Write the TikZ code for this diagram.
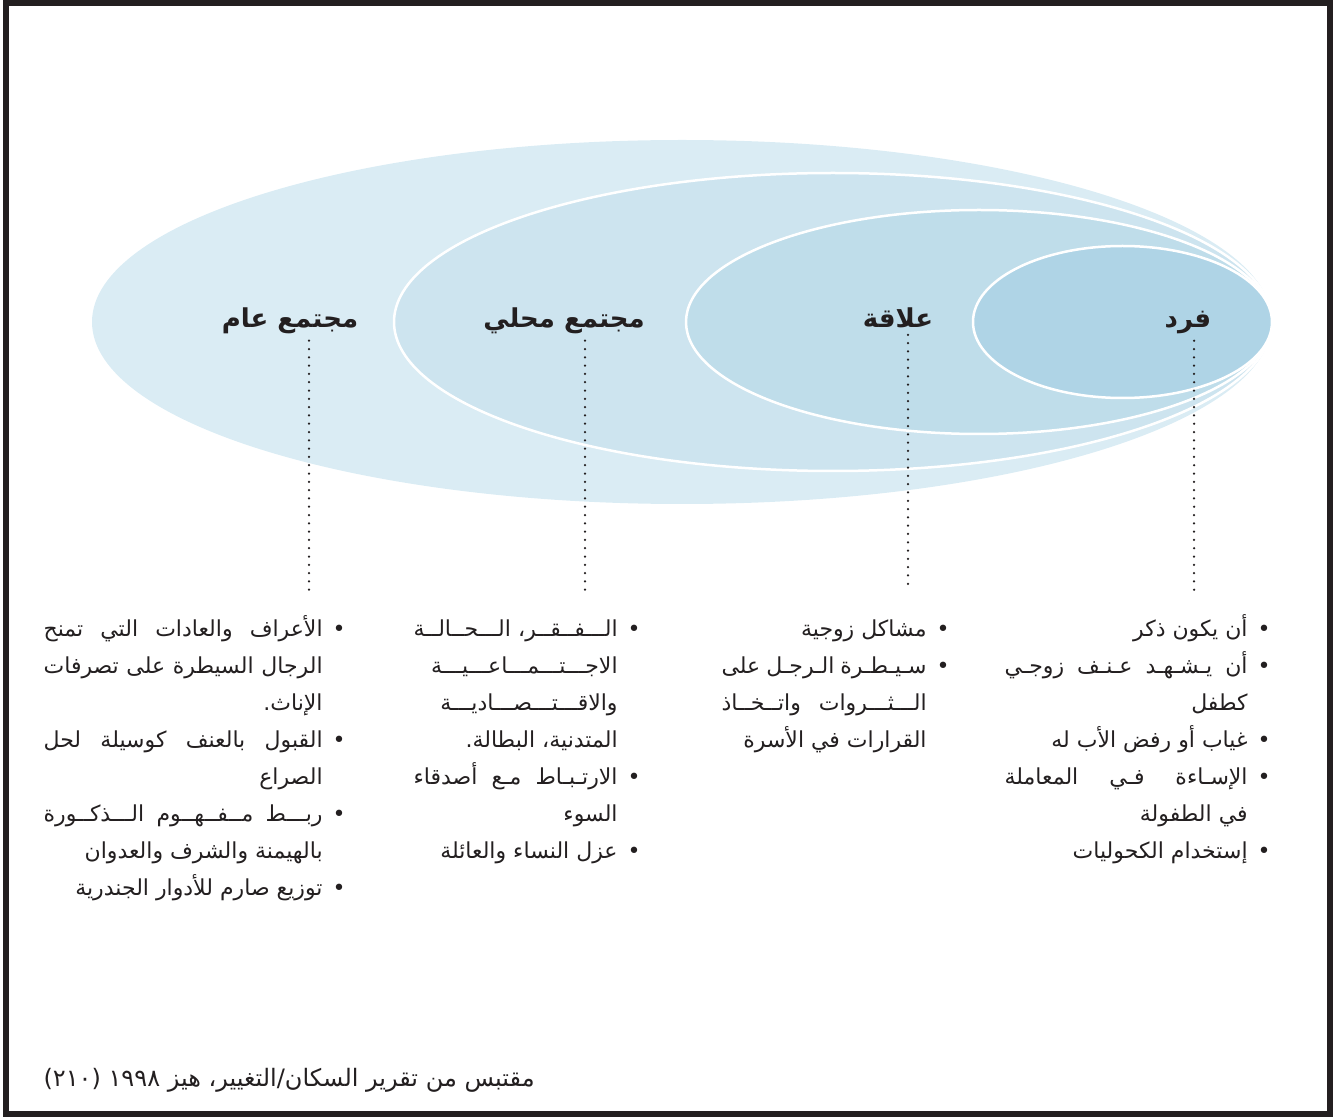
\documentclass[tikz,border=0pt]{standalone}
\usepackage{fontspec}
\usepackage{tikz}
\usetikzlibrary{positioning,calc}
\newfontfamily\arabicfont[Script=Arabic]{DejaVu Sans}
\TeXXeTstate=1
\definecolor{txt}{HTML}{231F20}
\definecolor{ringA}{HTML}{DAECF4}
\definecolor{ringB}{HTML}{CDE4EF}
\definecolor{ringC}{HTML}{BFDDEA}
\definecolor{ringD}{HTML}{AFD4E6}
\newcommand{\artext}[1]{\beginR#1\endR}
\newcommand{\jl}[2]{\makebox[#1][s]{#2}}
\newcommand{\bul}{\rlap{\hspace{5pt}•}}
\newcommand{\topstrut}{\rule{0pt}{14pt}}

\begin{document}
\begin{tikzpicture}[
  x=0.5pt, y=-0.5pt,
  every node/.style={text=txt},
  lab/.style={font=\arabicfont\bfseries\fontsize{13}{15}\selectfont, inner sep=0pt, anchor=base},
  items/.style={font=\arabicfont\fontsize{11}{18.5}\selectfont, align=right, inner sep=0pt, anchor=north east},
  dots/.style={draw=txt, line width=1.25pt, line cap=round, dash pattern=on 0pt off 4.15pt},
  ring/.style={draw=white, line width=1.25pt}
]
\useasboundingbox (0,0) rectangle (1335,1117);

% ---- frame ----
\draw[txt, line width=2.75pt] (6,3) rectangle (1330,1114);

% ---- rings ----
\fill[ringA] (682,322) ellipse [x radius=590, y radius=182];
\filldraw[ring, fill=ringB] (833,322) ellipse [x radius=439, y radius=149];
\filldraw[ring, fill=ringC] (979,322) ellipse [x radius=293, y radius=112];
\filldraw[ring, fill=ringD] (1122.5,322) ellipse [x radius=149.5, y radius=76];

% ---- ring labels ----
\node[lab] (fard) at (1188,328) {\artext{فرد}};
\node[lab] (alaqa) at (898,328) {\artext{علاقة}};
\node[lab] (mahalli) at (564,328) {\artext{مجتمع محلي}};
\node[lab] (aam) at (290,328) {\artext{مجتمع عام}};

% ---- lists ----
\node[items] (fardlist) at (1248,608) {%
  \topstrut\artext{أن يكون ذكر}\bul\\
  \jl{121.5pt}{\artext{أن يـشـهـد عـنـف زوجـي}}\bul\\
  \artext{كطفل}\\
  \artext{غياب أو رفض الأب له}\bul\\
  \jl{121.5pt}{\artext{الإسـاءة فـي المعاملة}}\bul\\
  \artext{في الطفولة}\\
  \artext{إستخدام الكحوليات}\bul};
\node[items] (alaqalist) at (927,608) {%
  \topstrut\artext{مشاكل زوجية}\bul\\
  \jl{102.5pt}{\artext{سـيـطـرة الـرجـل على}}\bul\\
  \jl{102.5pt}{\artext{الـــثـــروات واتــخــاذ}}\\
  \artext{القرارات في الأسرة}};
\node[items] (mahallilist) at (618,608) {%
  \topstrut\jl{102pt}{\artext{الـــفــقــر، الـــحــالــة}}\bul\\
  \artext{الاجـــتـــمـــاعـــيـــة}\\
  \artext{والاقـــتـــصـــاديـــة}\\
  \artext{المتدنية، البطالة.}\\
  \jl{102pt}{\artext{الارتـبـاط مـع أصدقاء}}\bul\\
  \artext{السوء}\\
  \artext{عزل النساء والعائلة}\bul};
\node[items] (aamlist) at (323,608) {%
  \topstrut\jl{139.5pt}{\artext{الأعراف والعادات التي تمنح}}\bul\\
  \jl{139.5pt}{\artext{الرجال السيطرة على تصرفات}}\\
  \artext{الإناث.}\\
  \jl{139.5pt}{\artext{القبول بالعنف كوسيلة لحل}}\bul\\
  \artext{الصراع}\\
  \jl{139.5pt}{\artext{ربـــط مــفــهــوم الـــذكــورة}}\bul\\
  \artext{بالهيمنة والشرف والعدوان}\\
  \artext{توزيع صارم للأدوار الجندرية}\bul};

% ---- dotted leaders ----
\coordinate (fardend) at (1194,590);
\coordinate (alaqaend) at (908,590);
\coordinate (mahalliend) at (585,590);
\coordinate (aamend) at (309,590);
\draw[dots] (fard.south -| fardend) ++(0,6) -- (fardend);
\draw[dots] (alaqa.south -| alaqaend) ++(0,6) -- (alaqaend);
\draw[dots] (mahalli.south -| mahalliend) ++(0,6) -- (mahalliend);
\draw[dots] (aam.south -| aamend) ++(0,6) -- (aamend);

% ---- source ----
\node[font=\arabicfont\fontsize{12}{14}\selectfont, inner sep=0pt, anchor=base east] (source) at (535,1086)
  {\artext{مقتبس من تقرير السكان/التغيير، هيز \beginL١٩٩٨\endL{} \beginL(٢١٠)\endL}};

\end{tikzpicture}
\end{document}
